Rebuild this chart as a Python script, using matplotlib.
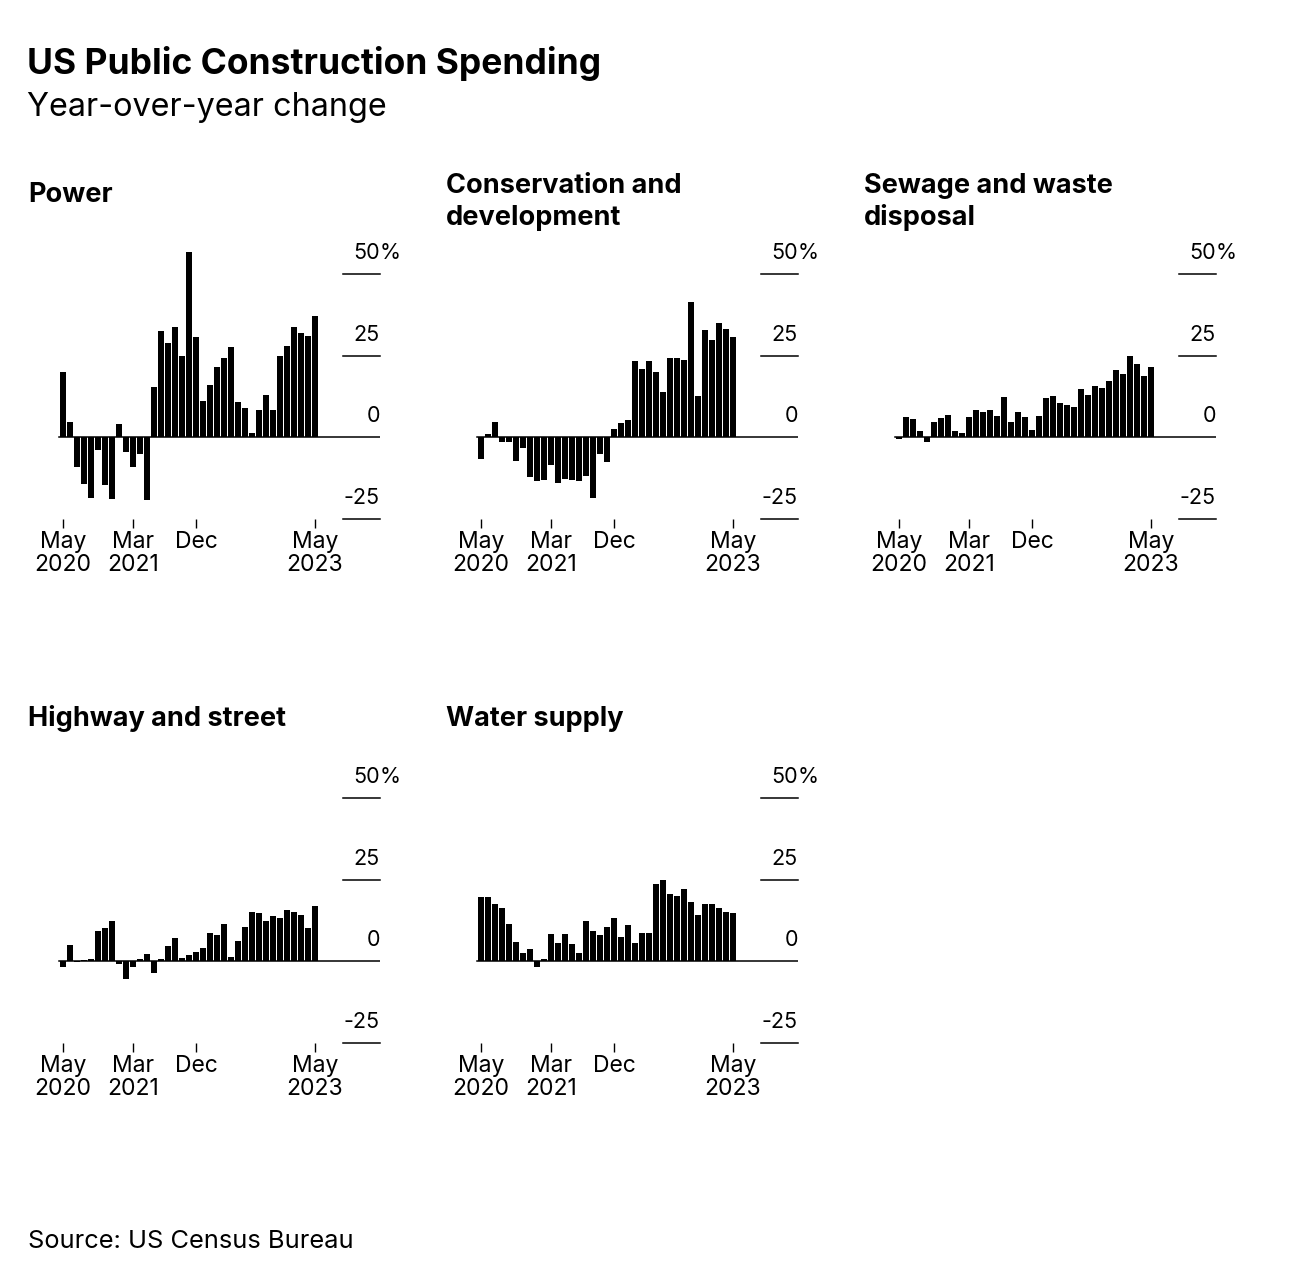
import numpy as np
import matplotlib
matplotlib.use("Agg")
import matplotlib.pyplot as plt
import matplotlib.transforms as mtransforms

plt.rcParams['font.family'] = ['Inter', 'DejaVu Sans']

# ---------------- data ----------------
power = [19.9, 4.5, -9.3, -14.4, -18.6, -4.0, -14.7, -19.1, 4.0, -4.6, -9.3, -5.3, -19.3,
         15.4, 32.5, 28.8, 33.6, 25.0, 56.7, 30.8, 11.0, 15.9, 21.5, 24.2, 27.7, 10.6,
         8.8, 1.2, 8.4, 13.0, 8.2, 24.9, 28.0, 33.6, 32.0, 31.1, 37.2]
conservation = [-6.6, 1.0, 4.6, -1.4, -1.4, -7.4, -3.5, -12.4, -13.6, -13.1, -8.7, -14.1,
                -12.9, -13.3, -13.6, -12.0, -18.6, -5.3, -7.6, 2.4, 4.2, 5.2, 23.2, 21.0,
                23.4, 19.9, 13.8, 24.3, 24.1, 23.7, 41.5, 12.6, 32.7, 29.7, 34.9, 33.0, 30.8]
sewage = [-0.5, 6.0, 5.6, 1.8, -1.5, 4.5, 5.8, 6.8, 1.8, 1.1, 6.0, 8.2, 7.7, 8.3, 6.5,
          12.3, 4.7, 7.7, 6.1, 2.1, 6.4, 12.0, 12.7, 10.5, 9.9, 9.3, 14.8, 13.0, 15.5,
          14.9, 17.1, 20.7, 19.2, 24.7, 22.3, 18.6, 21.5]
highway = [-1.9, 4.9, -0.3, 0.3, 0.6, 9.3, 10.2, 12.3, -1.0, -5.4, -1.8, 0.6, 2.0, -3.6,
           0.7, 4.5, 7.2, 1.0, 1.8, 2.7, 3.9, 8.7, 8.0, 11.5, 1.3, 6.1, 10.5, 15.1, 14.7,
           12.4, 13.9, 13.1, 15.5, 15.0, 14.1, 10.0, 16.8]
water = [19.7, 19.5, 17.4, 16.3, 11.2, 5.9, 2.4, 3.6, -1.8, 0.7, 8.4, 5.6, 8.3, 5.3, 2.4,
         12.4, 9.2, 8.1, 10.5, 13.2, 7.4, 10.9, 5.5, 8.7, 8.7, 23.5, 24.7, 20.5, 20.0,
         22.0, 18.1, 14.0, 17.4, 17.4, 16.2, 14.9, 14.7]

panel_titles = ["Power", "Conservation and\ndevelopment", "Sewage and waste\ndisposal",
                "Highway and street", "Water supply"]
series = [power, conservation, sewage, highway, water]

tick_index = [0, 10, 19, 36]
tick_labels = ["May\n2020", "Mar\n2021", "Dec", "May\n2023"]
y_ticks = [50, 25, 0, -25]
y_labels = ["50", "25", "0", "-25"]

title = "US Public Construction Spending"
subtitle = "Year-over-year change"
source = "Source: US Census Bureau"

# ---------------- layout ----------------
W, H = 1296, 1282
fig = plt.figure(figsize=(W / 100, H / 100), dpi=100)
fig.patch.set_facecolor("white")


def fx(px):
    return px / W


def fy(py):
    return 1 - py / H


fig.text(fx(27), fy(74), title, fontsize=25.5, fontweight='bold', va='baseline', ha='left')
fig.text(fx(27), fy(116), subtitle, fontsize=23.3, va='baseline', ha='left')
fig.text(fx(28), fy(1248), source, fontsize=18.3, va='baseline', ha='left')

XMIN, XMAX = -1.0, 45.29
YMIN, YMAX = -25.0, 58.0

for k, (vals, ttl) in enumerate(zip(series, panel_titles)):
    row, col = divmod(k, 3)
    dx, dy = col * 418, row * 524
    left, right = 56 + dx, 380 + dx
    bottom = 518.5 + dy
    top = bottom - (YMAX - YMIN) * 81.5 / 25
    ax = fig.add_axes([fx(left), fy(bottom), fx(right - left), (bottom - top) / H])
    x = np.arange(len(vals))
    ax.bar(x, vals, width=0.86, color='black', linewidth=0)
    ax.set_xlim(XMIN, XMAX)
    ax.set_ylim(YMIN, YMAX)
    for s in ax.spines.values():
        s.set_visible(False)
    ax.set_yticks([])
    ax.set_xticks(tick_index)
    ax.set_xticklabels(tick_labels, fontsize=16.5, linespacing=1.05)
    ax.tick_params(axis='x', length=6.5, width=1.0, color='black', pad=2.5, direction='out')
    ax.patch.set_visible(False)

    # zero baseline from first bar to right edge
    x0 = (-0.5 - XMIN) / (XMAX - XMIN)
    ax.axhline(0, xmin=x0, xmax=1, color='black', lw=1.1, zorder=3)
    # short gridline segments with labels
    gx = (343 + dx - left) / (right - left)
    trans = mtransforms.blended_transform_factory(ax.transAxes, ax.transData)
    for yv, lab in zip(y_ticks, y_labels):
        if yv != 0:
            ax.axhline(yv, xmin=gx, xmax=1, color='black', lw=1.1, clip_on=False)
        ax.annotate(lab, xy=(1.0, yv), xycoords=trans, xytext=(0, 10.5),
                    textcoords='offset points', ha='right', va='baseline',
                    fontsize=15.5, annotation_clip=False)
        if yv == 50:
            ax.annotate("%", xy=(1.0, yv), xycoords=trans, xytext=(0, 10.5),
                        textcoords='offset points', ha='left', va='baseline',
                        fontsize=15.5, annotation_clip=False)

    # panel title
    tx = 28 + dx
    lines = ttl.split("\n")
    if len(lines) == 1:
        fig.text(fx(tx), fy(202 + dy), lines[0], fontsize=19.5, fontweight='bold',
                 va='baseline', ha='left')
    else:
        for j, ln in enumerate(lines):
            fig.text(fx(tx), fy(193 + dy + 32 * j), ln, fontsize=19.5, fontweight='bold',
                     va='baseline', ha='left')

fig.savefig("out.png", dpi=100, facecolor="white")
